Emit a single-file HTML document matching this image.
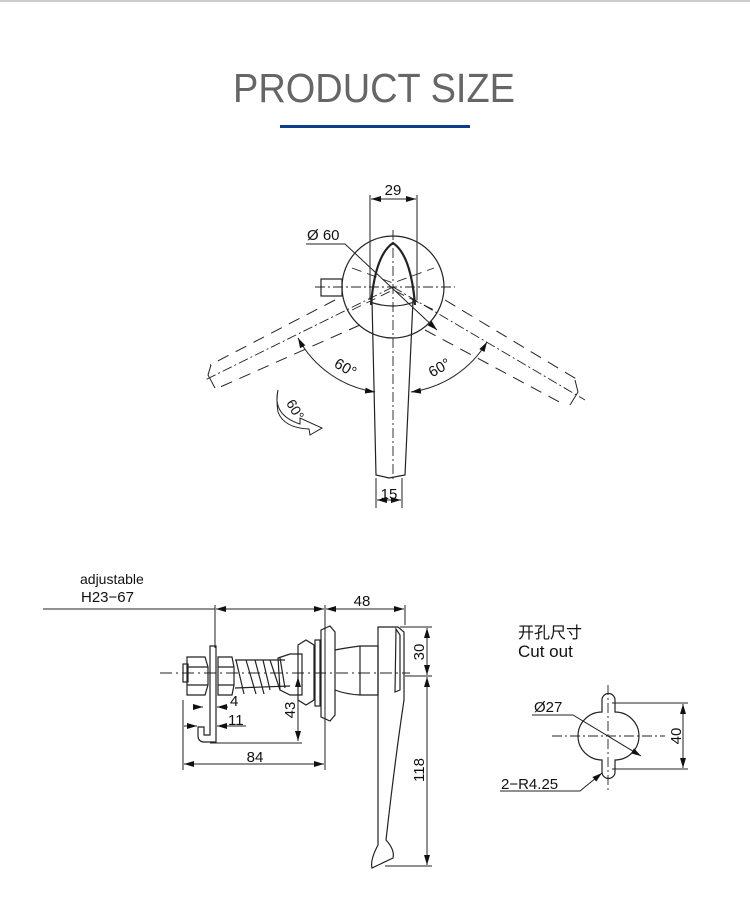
<!DOCTYPE html>
<html><head><meta charset="utf-8"><style>
body{margin:0;width:750px;height:912px;background:#fff;overflow:hidden}
svg{position:absolute;left:0;top:0}
</style></head><body>
<svg width="750" height="912" viewBox="0 0 750 912" xmlns="http://www.w3.org/2000/svg" font-family="Liberation Sans, sans-serif">
<defs><marker id="a" viewBox="0 0 10 6" refX="10" refY="3" markerWidth="10" markerHeight="6" orient="auto-start-reverse" markerUnits="userSpaceOnUse"><path d="M0,0L10,3L0,6z" fill="#111"/></marker></defs>
<line x1="0" y1="1" x2="750" y2="1" stroke="#ccc" stroke-width="2"/>
<text x="374" y="102" text-anchor="middle" font-size="41" fill="#666" font-family="Liberation Sans, sans-serif" textLength="282" lengthAdjust="spacingAndGlyphs">PRODUCT SIZE</text>
<rect x="280" y="125" width="190" height="3" fill="#0b3d8c"/>
<g stroke="#222" fill="none" stroke-width="1.2">
<circle cx="393" cy="287" r="51"/>
<path d="M371,305 Q375,255 393,243 Q411,255 415,305" stroke-width="2.2"/>
<path d="M372,300 L376,475 L389,478 L405,475 L413,300"/>
<path d="M370,302 Q393,310 414,302"/>
<path d="M352,268 L393,283 L434,268 M352,310 L393,290 L434,310" stroke-dasharray="10,6" stroke-width="0.9"/>
<rect x="321" y="279" width="21" height="17"/>
<line x1="370" y1="195" x2="370" y2="300" stroke-width="1"/>
<line x1="417" y1="195" x2="417" y2="300" stroke-width="1"/>
<line x1="371" y1="199" x2="416" y2="199" marker-start="url(#a)" marker-end="url(#a)" stroke-width="1"/>
<line x1="376" y1="478" x2="376" y2="508" stroke-width="1"/>
<line x1="402" y1="478" x2="402" y2="508" stroke-width="1"/>
<line x1="377" y1="500" x2="401" y2="500" marker-start="url(#a)" marker-end="url(#a)" stroke-width="1"/>
<path d="M306,244 L345,244 L437,330" stroke-width="1" marker-end="url(#a)"/>
<line x1="393" y1="230" x2="393" y2="480" stroke-dasharray="10,3,2,3" stroke-width="0.9"/>
<line x1="315" y1="287" x2="455" y2="287" stroke-dasharray="10,3,2,3" stroke-width="0.9"/>
<g stroke-dasharray="12,8" stroke-width="1">
<line x1="335" y1="300" x2="210" y2="365"/><line x1="360" y1="325" x2="218" y2="388"/>
<line x1="445" y1="300" x2="578" y2="380"/><line x1="425" y1="330" x2="565" y2="405"/>
</g>
<line x1="393" y1="287" x2="205" y2="380" stroke-dasharray="10,3,2,3" stroke-width="0.9"/>
<line x1="393" y1="287" x2="585" y2="400" stroke-dasharray="10,3,2,3" stroke-width="0.9"/>
<path d="M211,365 L208,375 L215,388" stroke-width="1"/>
<path d="M575,380 L578,392 L570,405" stroke-width="1"/>
<path d="M298,338 A105,105 0 0 0 375,392" marker-start="url(#a)" marker-end="url(#a)" stroke-width="1"/>
<path d="M487,342 A105,105 0 0 1 411,392" marker-start="url(#a)" marker-end="url(#a)" stroke-width="1"/>
<path d="M278,390 Q272,415 300,424 L300,418 L322,428 L310,435 L309,429 Q284,428 278,412 Q276,400 278,390 Z" stroke-width="1"/>
<line x1="43" y1="609" x2="215" y2="609" stroke-width="0.9"/>
<line x1="216" y1="609" x2="324" y2="609" marker-start="url(#a)" marker-end="url(#a)" stroke-width="1"/>
<line x1="326" y1="609" x2="404" y2="609" marker-start="url(#a)" marker-end="url(#a)" stroke-width="1"/>
<line x1="215" y1="605" x2="215" y2="648" stroke-width="1"/>
<line x1="325" y1="605" x2="325" y2="770" stroke-width="1"/>
<line x1="405" y1="605" x2="405" y2="625" stroke-width="1"/>
<path d="M210,646 L216,646 L216,742 L203,742 Q198,741 198,736 L198,727 L204,727 L204,735 L210,735 Z"/>
<rect x="183" y="664" width="5" height="18"/>
<path d="M187,657 L205,657 L208,667 L208,685 L205,695 L187,695 Z M187,667 L208,667 M187,685 L208,685"/>
<path d="M218,657 L232,657 L234,667 L234,685 L232,695 L218,695 Z M218,667 L234,667 M218,685 L234,685"/>
<path d="M236,660 L244,694 M246,660 L256,694 M255,660 L264,694 M263,660 L270,690 M270,660 L280,690 M280,658 L285,688"/>
<path d="M235,660 L285,660 M235,688 L290,686"/>
<path d="M278,658 L290,654 L302,654 L302,695 L290,695 L280,690 Z"/>
<path d="M298,645 L306,640 L314,645 L314,700 L306,705 L298,700 Z"/>
<rect x="315" y="640" width="5" height="66"/>
<path d="M321,630 L330,626 L335,632 L335,715 L330,721 L321,717 Z"/>
<path d="M335,650 Q345,648 360,646 L378,646 L378,695 L360,695 Q345,694 335,690"/>
<line x1="360" y1="646" x2="360" y2="695"/>
<path d="M378,627 L398,627 L404,632 L404,700 Q395,760 386,840 Q395,850 393,858 L372,868 Q370,860 378,845 Z"/>
<path d="M396,629 L400,635 L400,690 L395,692 Z"/>
<line x1="160" y1="673" x2="410" y2="673" stroke-dasharray="12,4,2,4" stroke-width="0.9"/>
<line x1="183" y1="700" x2="183" y2="770" stroke-width="1"/>
<line x1="184" y1="764" x2="324" y2="764" marker-start="url(#a)" marker-end="url(#a)" stroke-width="1"/>
<line x1="196" y1="707" x2="203" y2="707" marker-end="url(#a)" stroke-width="1"/>
<line x1="228" y1="707" x2="217" y2="707" marker-end="url(#a)" stroke-width="1"/>
<line x1="184" y1="726" x2="197" y2="726" marker-end="url(#a)" stroke-width="1"/>
<line x1="246" y1="726" x2="217" y2="726" marker-end="url(#a)" stroke-width="1"/>
<line x1="210" y1="743" x2="302" y2="743" stroke-width="1"/>
<line x1="298" y1="677" x2="298" y2="741" marker-start="url(#a)" marker-end="url(#a)" stroke-width="1"/>
<line x1="400" y1="627" x2="432" y2="627" stroke-width="0.9"/>
<line x1="405" y1="676" x2="432" y2="676" stroke-width="0.9"/>
<line x1="385" y1="866" x2="432" y2="866" stroke-width="0.9"/>
<line x1="427" y1="628" x2="427" y2="675" marker-start="url(#a)" marker-end="url(#a)" stroke-width="1"/>
<line x1="427" y1="677" x2="427" y2="865" marker-start="url(#a)" marker-end="url(#a)" stroke-width="1"/>
<path d="M602,712 L602,700 A6.5,6.5 0 0 1 615,700 L615,712 A23,23 0 0 1 615,760 L615,772 A6.5,6.5 0 0 1 602,772 L602,760 A23,23 0 0 1 602,712 Z"/>
<line x1="608" y1="685" x2="608" y2="790" stroke-dasharray="10,3,2,3" stroke-width="0.9"/>
<line x1="552" y1="736" x2="665" y2="736" stroke-dasharray="10,3,2,3" stroke-width="0.9"/>
<line x1="612" y1="703" x2="688" y2="703" stroke-width="0.9"/>
<line x1="612" y1="769" x2="688" y2="769" stroke-width="0.9"/>
<line x1="683" y1="704" x2="683" y2="768" marker-start="url(#a)" marker-end="url(#a)" stroke-width="1"/>
<path d="M532,715 L573,715 L641,756" marker-end="url(#a)" stroke-width="1"/>
<path d="M500,791 L580,791 L602,773" marker-end="url(#a)" stroke-width="1"/>
</g>
<g fill="#111" font-size="15">
<text x="393" y="195" text-anchor="middle">29</text>
<text x="307" y="240">Ø 60</text>
<text x="389" y="499" text-anchor="middle">15</text>
<text x="343" y="372" transform="rotate(30 343 372)" text-anchor="middle">60°</text>
<text x="442" y="372" transform="rotate(-30 442 372)" text-anchor="middle">60°</text>
<text x="291" y="412" transform="rotate(60 291 412)" text-anchor="middle" font-size="14">60°</text>
<text x="80" y="584" font-size="14">adjustable</text>
<text x="81" y="602">H23−67</text>
<text x="362" y="606" text-anchor="middle">48</text>
<text x="230" y="706">4</text>
<text x="228" y="725">11</text>
<text x="255" y="762" text-anchor="middle">84</text>
<text transform="translate(295,710) rotate(-90)" text-anchor="middle">43</text>
<text transform="translate(424,652) rotate(-90)" text-anchor="middle">30</text>
<text transform="translate(424,770) rotate(-90)" text-anchor="middle">118</text>
<text x="518" y="638" font-size="16" font-family="Liberation Sans, Noto Sans CJK SC, sans-serif">开孔尺寸</text>
<text x="518" y="657" font-size="17">Cut out</text>
<text x="534" y="712">Ø27</text>
<text x="501" y="789">2−R4.25</text>
<text transform="translate(681,736) rotate(-90)" text-anchor="middle">40</text>
</g>
</svg>
</body></html>
